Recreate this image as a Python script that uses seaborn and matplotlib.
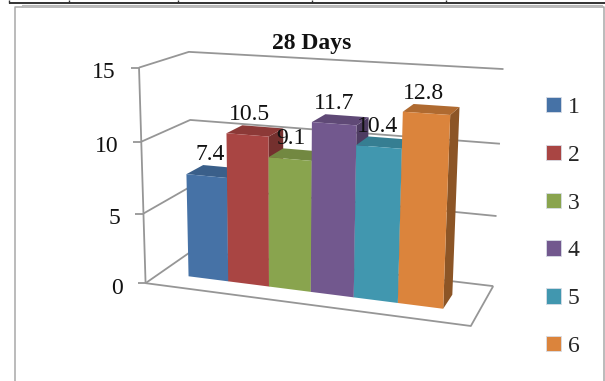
import numpy as np
import pandas as pd
import matplotlib
matplotlib.use("Agg")
import matplotlib.pyplot as plt
from matplotlib.transforms import Transform, Affine2D
from matplotlib.patches import Polygon
import seaborn as sns

# Chart data
categories = ["1", "2", "3", "4", "5", "6"]
values = [7.4, 10.5, 9.1, 11.7, 10.4, 12.8]
value_ticks = [0, 5, 10, 15]
title = "28 Days"

front_colors = ["#4672A6", "#A94543", "#89A44E", "#72588E", "#4197AF", "#DB843C"]
top_colors = ["#3A5F8A", "#8C3937", "#728841", "#5F4976", "#367E92", "#AF6A30"]
side_colors = ["#30506F", "#74302E", "#5E7036", "#4E3C62", "#2D6778", "#8C5526"]

WIDTH, HEIGHT = 605, 381
BAR_FRONT, BAR_BACK = 0.30, 0.66
X_LEFT, X_RIGHT = -1.22, 6.25

# Box corners of the chart (x, value, depth) and where they land on the canvas
world = np.array([
    (X_LEFT, 0, 0), (X_LEFT, 5, 0), (X_LEFT, 10, 0), (X_LEFT, 15, 0),
    (X_LEFT, 0, 1), (X_LEFT, 10, 1), (X_LEFT, 15, 1),
    (X_RIGHT, 0, 1), (X_RIGHT, 5, 1), (X_RIGHT, 10, 1), (X_RIGHT, 15, 1),
    (X_RIGHT, 0, 0),
], dtype=float)
canvas = np.array([
    (147, 282), (145, 213), (140, 142), (137, 68),
    (190, 252), (192, 119), (190, 52),
    (493, 285), (497, 216), (500, 144), (503, 69),
    (471, 327),
], dtype=float)


def fit_camera(w, c):
    rows = []
    for (x, y, z), (u, v) in zip(w, c):
        rows.append([x, y, z, 1, 0, 0, 0, 0, -u * x, -u * y, -u * z, -u])
        rows.append([0, 0, 0, 0, x, y, z, 1, -v * x, -v * y, -v * z, -v])
    return np.linalg.svd(np.array(rows))[2][-1].reshape(3, 4)


CAMERA = fit_camera(world, canvas)


def project(x, v, d):
    pts = np.column_stack([x, v, d, np.ones_like(np.asarray(x, dtype=float))])
    h = pts @ CAMERA.T
    return h[:, :2] / h[:, 2:]


class DepthPlane(Transform):
    """Maps (x, value) on a plane of constant depth to canvas pixels."""
    input_dims = output_dims = 2

    def __init__(self, plane_depth):
        super().__init__()
        self.plane_depth = plane_depth

    def transform_non_affine(self, points):
        points = np.asarray(points, dtype=float)
        return project(points[:, 0], points[:, 1], np.full(len(points), self.plane_depth))


sns.set_theme(style="white")
plt.rcParams["font.family"] = ["Liberation Serif", "DejaVu Serif"]

fig = plt.figure(figsize=(WIDTH / 100, HEIGHT / 100), dpi=100, facecolor="white")
ax = fig.add_axes([0, 0, 1, 1])
to_display = Affine2D().scale(1, -1).translate(0, HEIGHT)

frame = pd.DataFrame({"group": categories, "value": values})
sns.barplot(data=frame, x="group", y="value", hue="group", palette=front_colors,
            hue_order=categories, order=categories, dodge=False, width=1.0,
            saturation=1, legend=True, ax=ax, linewidth=0)
sns.move_legend(ax, loc="upper left", bbox_to_anchor=(546 / WIDTH, 1 - 97 / HEIGHT),
                frameon=False, title=None, fontsize=17, handlelength=0.62,
                handleheight=0.62, labelspacing=1.135, handletextpad=0.3,
                borderpad=0, borderaxespad=0)
for handle in ax.get_legend().get_patches():
    handle.set_edgecolor("#d8dde6")
    handle.set_linewidth(0.6)
ax.set_axis_off()

# Front faces come from seaborn and are carried onto the front plane of the bars
front_plane = DepthPlane(BAR_FRONT) + to_display
for i, container in enumerate(ax.containers):
    for bar in container:
        bar.set_transform(front_plane)
        bar.set_clip_on(False)
        bar.set_zorder(10 + 3 * i + 2)

# Top and side faces of each bar
for i, v in enumerate(values):
    l, r = i - 0.5, i + 0.5
    top = project([l, r, r, l], [v] * 4, [BAR_FRONT, BAR_FRONT, BAR_BACK, BAR_BACK])
    side = project([r, r, r, r], [0, v, v, 0], [BAR_FRONT, BAR_FRONT, BAR_BACK, BAR_BACK])
    ax.add_patch(Polygon(top, closed=True, fc=top_colors[i], ec="none",
                         transform=to_display, clip_on=False, zorder=10 + 3 * i + 1))
    ax.add_patch(Polygon(side, closed=True, fc=side_colors[i], ec="none",
                         transform=to_display, clip_on=False, zorder=10 + 3 * i))


def line(pts, color="#969696", lw=1.3, z=2):
    pts = np.asarray(pts)
    ax.plot(pts[:, 0], pts[:, 1], color=color, lw=lw, transform=to_display,
            clip_on=False, zorder=z, solid_capstyle="butt")


# Walls, floor and value axis
for t in value_ticks:
    wall = project([X_LEFT, X_LEFT, X_RIGHT], [t, t, t], [0, 1, 1])
    line(wall)
    corner = wall[0]
    line([corner + (-8, 0), corner])
    ax.text(corner[0] - 23, corner[1] + 5, str(t), transform=to_display, fontsize=17,
            ha="right", va="center", color="#111111", clip_on=False)
line(project([X_LEFT, X_LEFT], [0, 15], [0, 0]))
line(project([X_LEFT, X_RIGHT, X_RIGHT], [0, 0, 0], [0, 0, 1]))

# Value labels above the bars
for i, v in enumerate(values):
    anchor = project([i], [v], [BAR_BACK])[0]
    ax.text(anchor[0] - 13, anchor[1] - 12, f"{v:.1f}", transform=to_display, fontsize=17,
            ha="center", va="center", color="#111111", clip_on=False, zorder=40)

ax.text(312, 44, title, transform=to_display, fontsize=17, fontweight="bold",
        ha="center", va="center", color="#111111", clip_on=False, zorder=40)

# Chart border and the rules of the table above it
line([(15, HEIGHT), (15, 7), (604, 7), (604, HEIGHT)], color="#a8a8a8", lw=1.1, z=1)
line([(22, 7), (22, 5), (602, 5), (602, 7)], color="#b8b8b8", lw=0.8, z=1)
line([(9, 3), (WIDTH, 3)], color="#333333", lw=1.4, z=1)
for x in [9, 69, 178, 312, 446]:
    line([(x, 0), (x, 3)], color="#333333", lw=1.0, z=1)

fig.savefig("out.png", dpi=100)
